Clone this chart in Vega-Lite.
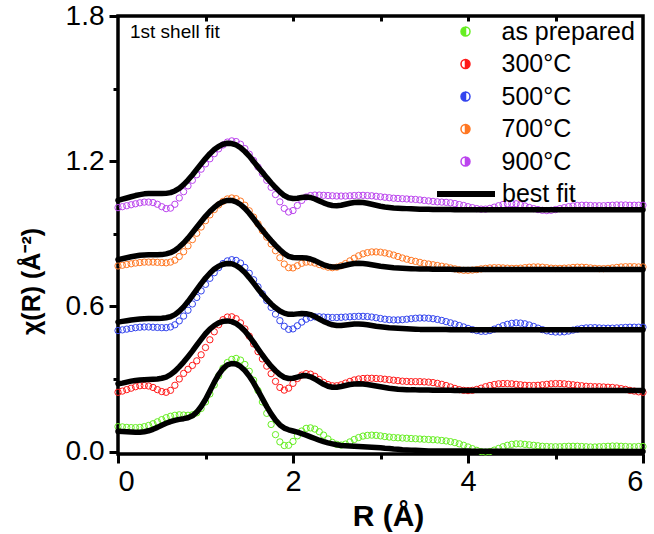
{
"$schema": "https://vega.github.io/schema/vega-lite/v6.json",
"width": 525, "height": 438,
"autosize": {"type": "none"},
"padding": {"left": 118, "top": 16, "right": 11, "bottom": 80},
"background": "white",
"title": {"text": "1st shell fit", "anchor": "start", "frame": "group", "orient": "top", "offset": -22, "baseline": "alphabetic", "dx": 12, "dy": 33, "fontSize": 19, "font": "Liberation Sans", "fontWeight": "normal", "color": "#000"},
"data": {"values": [
{"x":0,"g":0.103,"r":0.245,"b":0.500,"o":0.767,"p":1.008,"fg":0.084,"fr":0.280,"fb":0.535,"fo":0.793,"fp":1.038},
{"x":0.05,"g":0.102,"r":0.250,"b":0.503,"o":0.770,"p":1.012,"fg":0.083,"fr":0.283,"fb":0.538,"fo":0.797,"fp":1.043},
{"x":0.1,"g":0.100,"r":0.256,"b":0.506,"o":0.773,"p":1.016,"fg":0.082,"fr":0.287,"fb":0.541,"fo":0.801,"fp":1.048},
{"x":0.15,"g":0.099,"r":0.262,"b":0.509,"o":0.776,"p":1.020,"fg":0.081,"fr":0.291,"fb":0.544,"fo":0.805,"fp":1.053},
{"x":0.2,"g":0.099,"r":0.268,"b":0.512,"o":0.779,"p":1.024,"fg":0.080,"fr":0.294,"fb":0.546,"fo":0.808,"fp":1.058},
{"x":0.25,"g":0.100,"r":0.272,"b":0.514,"o":0.781,"p":1.028,"fg":0.080,"fr":0.296,"fb":0.548,"fo":0.811,"fp":1.062},
{"x":0.3,"g":0.103,"r":0.273,"b":0.515,"o":0.783,"p":1.031,"fg":0.082,"fr":0.297,"fb":0.549,"fo":0.812,"fp":1.065},
{"x":0.35,"g":0.108,"r":0.271,"b":0.515,"o":0.783,"p":1.031,"fg":0.086,"fr":0.298,"fb":0.550,"fo":0.813,"fp":1.066},
{"x":0.4,"g":0.115,"r":0.265,"b":0.514,"o":0.783,"p":1.029,"fg":0.092,"fr":0.299,"fb":0.550,"fo":0.813,"fp":1.066},
{"x":0.45,"g":0.123,"r":0.256,"b":0.513,"o":0.782,"p":1.022,"fg":0.100,"fr":0.300,"fb":0.550,"fo":0.813,"fp":1.066},
{"x":0.5,"g":0.132,"r":0.248,"b":0.512,"o":0.781,"p":1.012,"fg":0.109,"fr":0.303,"fb":0.551,"fo":0.814,"fp":1.066},
{"x":0.55,"g":0.140,"r":0.245,"b":0.512,"o":0.780,"p":1.004,"fg":0.117,"fr":0.308,"fb":0.553,"fo":0.817,"fp":1.067},
{"x":0.6,"g":0.146,"r":0.253,"b":0.515,"o":0.783,"p":1.006,"fg":0.124,"fr":0.318,"fb":0.557,"fo":0.822,"fp":1.070},
{"x":0.65,"g":0.150,"r":0.274,"b":0.524,"o":0.791,"p":1.022,"fg":0.129,"fr":0.332,"fb":0.566,"fo":0.831,"fp":1.077},
{"x":0.7,"g":0.152,"r":0.300,"b":0.540,"o":0.806,"p":1.048,"fg":0.133,"fr":0.350,"fb":0.580,"fo":0.845,"fp":1.088},
{"x":0.75,"g":0.151,"r":0.323,"b":0.560,"o":0.826,"p":1.074,"fg":0.136,"fr":0.370,"fb":0.598,"fo":0.862,"fp":1.103},
{"x":0.8,"g":0.150,"r":0.340,"b":0.584,"o":0.850,"p":1.098,"fg":0.140,"fr":0.392,"fb":0.620,"fo":0.882,"fp":1.122},
{"x":0.85,"g":0.152,"r":0.356,"b":0.610,"o":0.876,"p":1.121,"fg":0.148,"fr":0.415,"fb":0.644,"fo":0.904,"fp":1.143},
{"x":0.9,"g":0.160,"r":0.375,"b":0.637,"o":0.902,"p":1.144,"fg":0.163,"fr":0.440,"fb":0.669,"fo":0.927,"fp":1.166},
{"x":0.95,"g":0.178,"r":0.400,"b":0.664,"o":0.928,"p":1.167,"fg":0.186,"fr":0.464,"fb":0.694,"fo":0.950,"fp":1.189},
{"x":1.0,"g":0.205,"r":0.430,"b":0.691,"o":0.954,"p":1.189,"fg":0.215,"fr":0.487,"fb":0.717,"fo":0.972,"fp":1.211},
{"x":1.05,"g":0.238,"r":0.462,"b":0.716,"o":0.978,"p":1.210,"fg":0.250,"fr":0.506,"fb":0.737,"fo":0.992,"fp":1.231},
{"x":1.1,"g":0.275,"r":0.495,"b":0.739,"o":1.000,"p":1.231,"fg":0.286,"fr":0.521,"fb":0.754,"fo":1.009,"fp":1.248},
{"x":1.15,"g":0.313,"r":0.524,"b":0.760,"o":1.019,"p":1.251,"fg":0.318,"fr":0.532,"fb":0.766,"fo":1.023,"fp":1.261},
{"x":1.2,"g":0.345,"r":0.545,"b":0.777,"o":1.034,"p":1.267,"fg":0.343,"fr":0.538,"fb":0.774,"fo":1.033,"fp":1.270},
{"x":1.25,"g":0.368,"r":0.556,"b":0.788,"o":1.044,"p":1.279,"fg":0.358,"fr":0.540,"fb":0.777,"fo":1.038,"fp":1.274},
{"x":1.3,"g":0.381,"r":0.557,"b":0.793,"o":1.048,"p":1.284,"fg":0.364,"fr":0.537,"fb":0.776,"fo":1.038,"fp":1.273},
{"x":1.35,"g":0.385,"r":0.549,"b":0.790,"o":1.045,"p":1.281,"fg":0.362,"fr":0.529,"fb":0.769,"fo":1.032,"fp":1.267},
{"x":1.4,"g":0.378,"r":0.532,"b":0.779,"o":1.035,"p":1.270,"fg":0.352,"fr":0.516,"fb":0.757,"fo":1.021,"fp":1.256},
{"x":1.45,"g":0.360,"r":0.507,"b":0.761,"o":1.018,"p":1.252,"fg":0.335,"fr":0.498,"fb":0.740,"fo":1.005,"fp":1.240},
{"x":1.5,"g":0.332,"r":0.477,"b":0.737,"o":0.995,"p":1.229,"fg":0.312,"fr":0.476,"fb":0.719,"fo":0.985,"fp":1.221},
{"x":1.55,"g":0.295,"r":0.445,"b":0.710,"o":0.969,"p":1.203,"fg":0.284,"fr":0.451,"fb":0.696,"fo":0.962,"fp":1.199},
{"x":1.6,"g":0.252,"r":0.413,"b":0.681,"o":0.941,"p":1.176,"fg":0.252,"fr":0.425,"fb":0.672,"fo":0.938,"fp":1.176},
{"x":1.65,"g":0.205,"r":0.383,"b":0.652,"o":0.913,"p":1.149,"fg":0.219,"fr":0.399,"fb":0.650,"fo":0.915,"fp":1.154},
{"x":1.7,"g":0.158,"r":0.353,"b":0.624,"o":0.886,"p":1.121,"fg":0.186,"fr":0.375,"fb":0.629,"fo":0.893,"fp":1.132},
{"x":1.75,"g":0.112,"r":0.322,"b":0.596,"o":0.858,"p":1.092,"fg":0.156,"fr":0.353,"fb":0.610,"fo":0.872,"fp":1.111},
{"x":1.8,"g":0.070,"r":0.290,"b":0.568,"o":0.830,"p":1.062,"fg":0.130,"fr":0.334,"fb":0.594,"fo":0.852,"fp":1.091},
{"x":1.85,"g":0.040,"r":0.265,"b":0.541,"o":0.801,"p":1.032,"fg":0.110,"fr":0.318,"fb":0.581,"fo":0.834,"fp":1.073},
{"x":1.9,"g":0.025,"r":0.254,"b":0.518,"o":0.775,"p":1.005,"fg":0.097,"fr":0.307,"fb":0.572,"fo":0.818,"fp":1.058},
{"x":1.95,"g":0.026,"r":0.262,"b":0.505,"o":0.760,"p":0.990,"fg":0.090,"fr":0.302,"fb":0.567,"fo":0.807,"fp":1.049},
{"x":2.0,"g":0.042,"r":0.282,"b":0.507,"o":0.759,"p":0.996,"fg":0.085,"fr":0.303,"fb":0.567,"fo":0.802,"fp":1.046},
{"x":2.05,"g":0.065,"r":0.302,"b":0.520,"o":0.768,"p":1.017,"fg":0.080,"fr":0.308,"fb":0.569,"fo":0.801,"fp":1.047},
{"x":2.1,"g":0.085,"r":0.316,"b":0.535,"o":0.778,"p":1.038,"fg":0.074,"fr":0.313,"fb":0.571,"fo":0.801,"fp":1.050},
{"x":2.15,"g":0.096,"r":0.322,"b":0.547,"o":0.783,"p":1.052,"fg":0.068,"fr":0.314,"fb":0.570,"fo":0.800,"fp":1.052},
{"x":2.2,"g":0.098,"r":0.320,"b":0.554,"o":0.783,"p":1.058,"fg":0.061,"fr":0.309,"fb":0.566,"fo":0.796,"fp":1.050},
{"x":2.25,"g":0.093,"r":0.311,"b":0.557,"o":0.779,"p":1.060,"fg":0.054,"fr":0.300,"fb":0.558,"fo":0.789,"fp":1.044},
{"x":2.3,"g":0.082,"r":0.298,"b":0.557,"o":0.773,"p":1.060,"fg":0.047,"fr":0.289,"fb":0.548,"fo":0.780,"fp":1.036},
{"x":2.35,"g":0.068,"r":0.286,"b":0.556,"o":0.767,"p":1.059,"fg":0.041,"fr":0.278,"fb":0.538,"fo":0.772,"fp":1.028},
{"x":2.4,"g":0.052,"r":0.277,"b":0.555,"o":0.762,"p":1.058,"fg":0.036,"fr":0.270,"fb":0.530,"fo":0.766,"fp":1.021},
{"x":2.45,"g":0.038,"r":0.272,"b":0.554,"o":0.760,"p":1.057,"fg":0.032,"fr":0.266,"fb":0.524,"fo":0.763,"fp":1.017},
{"x":2.5,"g":0.030,"r":0.272,"b":0.554,"o":0.762,"p":1.056,"fg":0.028,"fr":0.266,"fb":0.521,"fo":0.763,"fp":1.016},
{"x":2.55,"g":0.027,"r":0.276,"b":0.555,"o":0.768,"p":1.056,"fg":0.025,"fr":0.269,"fb":0.521,"fo":0.766,"fp":1.018},
{"x":2.6,"g":0.031,"r":0.283,"b":0.556,"o":0.777,"p":1.056,"fg":0.024,"fr":0.273,"fb":0.523,"fo":0.770,"fp":1.022},
{"x":2.65,"g":0.040,"r":0.290,"b":0.557,"o":0.788,"p":1.057,"fg":0.023,"fr":0.277,"fb":0.525,"fo":0.774,"fp":1.026},
{"x":2.7,"g":0.050,"r":0.296,"b":0.558,"o":0.799,"p":1.058,"fg":0.022,"fr":0.279,"fb":0.527,"fo":0.777,"fp":1.029},
{"x":2.75,"g":0.058,"r":0.300,"b":0.559,"o":0.809,"p":1.059,"fg":0.021,"fr":0.280,"fb":0.527,"fo":0.778,"fp":1.030},
{"x":2.8,"g":0.064,"r":0.302,"b":0.559,"o":0.817,"p":1.059,"fg":0.020,"fr":0.279,"fb":0.526,"fo":0.777,"fp":1.029},
{"x":2.85,"g":0.067,"r":0.303,"b":0.558,"o":0.822,"p":1.058,"fg":0.019,"fr":0.277,"fb":0.524,"fo":0.775,"fp":1.026},
{"x":2.9,"g":0.068,"r":0.303,"b":0.556,"o":0.825,"p":1.057,"fg":0.018,"fr":0.274,"fb":0.521,"fo":0.772,"fp":1.022},
{"x":2.95,"g":0.067,"r":0.302,"b":0.553,"o":0.825,"p":1.055,"fg":0.017,"fr":0.271,"fb":0.518,"fo":0.769,"fp":1.018},
{"x":3.0,"g":0.065,"r":0.301,"b":0.550,"o":0.824,"p":1.053,"fg":0.016,"fr":0.268,"fb":0.516,"fo":0.766,"fp":1.014},
{"x":3.05,"g":0.062,"r":0.299,"b":0.547,"o":0.821,"p":1.051,"fg":0.014,"fr":0.265,"fb":0.514,"fo":0.764,"fp":1.011},
{"x":3.1,"g":0.060,"r":0.297,"b":0.545,"o":0.817,"p":1.049,"fg":0.013,"fr":0.262,"fb":0.512,"fo":0.762,"fp":1.009},
{"x":3.15,"g":0.058,"r":0.295,"b":0.544,"o":0.812,"p":1.047,"fg":0.011,"fr":0.260,"fb":0.511,"fo":0.760,"fp":1.007},
{"x":3.2,"g":0.057,"r":0.293,"b":0.544,"o":0.806,"p":1.046,"fg":0.010,"fr":0.258,"fb":0.510,"fo":0.759,"fp":1.006},
{"x":3.25,"g":0.056,"r":0.291,"b":0.545,"o":0.800,"p":1.045,"fg":0.008,"fr":0.257,"fb":0.509,"fo":0.758,"fp":1.005},
{"x":3.3,"g":0.055,"r":0.290,"b":0.547,"o":0.795,"p":1.044,"fg":0.007,"fr":0.256,"fb":0.508,"fo":0.757,"fp":1.004},
{"x":3.35,"g":0.054,"r":0.289,"b":0.549,"o":0.790,"p":1.043,"fg":0.006,"fr":0.255,"fb":0.507,"fo":0.756,"fp":1.003},
{"x":3.4,"g":0.053,"r":0.289,"b":0.551,"o":0.786,"p":1.042,"fg":0.005,"fr":0.255,"fb":0.506,"fo":0.755,"fp":1.002},
{"x":3.45,"g":0.052,"r":0.289,"b":0.552,"o":0.782,"p":1.040,"fg":0.004,"fr":0.254,"fb":0.505,"fo":0.754,"fp":1.001},
{"x":3.5,"g":0.051,"r":0.288,"b":0.552,"o":0.778,"p":1.038,"fg":0.003,"fr":0.254,"fb":0.505,"fo":0.754,"fp":1.001},
{"x":3.55,"g":0.050,"r":0.287,"b":0.551,"o":0.775,"p":1.036,"fg":0.002,"fr":0.254,"fb":0.504,"fo":0.754,"fp":1.001},
{"x":3.6,"g":0.049,"r":0.285,"b":0.549,"o":0.772,"p":1.034,"fg":0.002,"fr":0.253,"fb":0.504,"fo":0.753,"fp":1.000},
{"x":3.65,"g":0.048,"r":0.282,"b":0.546,"o":0.769,"p":1.032,"fg":0.002,"fr":0.253,"fb":0.504,"fo":0.753,"fp":1.000},
{"x":3.7,"g":0.046,"r":0.278,"b":0.542,"o":0.766,"p":1.031,"fg":0.002,"fr":0.253,"fb":0.504,"fo":0.753,"fp":1.000},
{"x":3.75,"g":0.044,"r":0.273,"b":0.537,"o":0.763,"p":1.030,"fg":0.002,"fr":0.253,"fb":0.504,"fo":0.753,"fp":1.000},
{"x":3.8,"g":0.041,"r":0.267,"b":0.532,"o":0.759,"p":1.028,"fg":0.002,"fr":0.253,"fb":0.503,"fo":0.753,"fp":1.000},
{"x":3.85,"g":0.037,"r":0.261,"b":0.527,"o":0.755,"p":1.025,"fg":0.002,"fr":0.252,"fb":0.503,"fo":0.752,"fp":0.999},
{"x":3.9,"g":0.032,"r":0.256,"b":0.521,"o":0.751,"p":1.021,"fg":0.002,"fr":0.252,"fb":0.503,"fo":0.752,"fp":0.999},
{"x":3.95,"g":0.026,"r":0.253,"b":0.515,"o":0.749,"p":1.017,"fg":0.002,"fr":0.252,"fb":0.503,"fo":0.752,"fp":0.999},
{"x":4.0,"g":0.019,"r":0.252,"b":0.509,"o":0.749,"p":1.012,"fg":0.002,"fr":0.252,"fb":0.503,"fo":0.752,"fp":0.999},
{"x":4.05,"g":0.012,"r":0.253,"b":0.504,"o":0.750,"p":1.008,"fg":0.001,"fr":0.252,"fb":0.503,"fo":0.752,"fp":0.999},
{"x":4.1,"g":0.005,"r":0.257,"b":0.500,"o":0.752,"p":1.004,"fg":0.001,"fr":0.252,"fb":0.503,"fo":0.752,"fp":0.999},
{"x":4.15,"g":0.000,"r":0.262,"b":0.497,"o":0.755,"p":1.002,"fg":0.001,"fr":0.252,"fb":0.503,"fo":0.752,"fp":0.999},
{"x":4.2,"g":-0.002,"r":0.268,"b":0.497,"o":0.757,"p":1.002,"fg":0.001,"fr":0.252,"fb":0.503,"fo":0.752,"fp":0.999},
{"x":4.25,"g":0.000,"r":0.273,"b":0.500,"o":0.759,"p":1.005,"fg":0.001,"fr":0.252,"fb":0.503,"fo":0.752,"fp":0.999},
{"x":4.3,"g":0.006,"r":0.277,"b":0.506,"o":0.760,"p":1.010,"fg":0.001,"fr":0.252,"fb":0.503,"fo":0.752,"fp":0.999},
{"x":4.35,"g":0.013,"r":0.280,"b":0.513,"o":0.760,"p":1.016,"fg":0.001,"fr":0.252,"fb":0.503,"fo":0.752,"fp":0.999},
{"x":4.4,"g":0.020,"r":0.281,"b":0.520,"o":0.759,"p":1.021,"fg":0.001,"fr":0.252,"fb":0.503,"fo":0.752,"fp":0.999},
{"x":4.45,"g":0.026,"r":0.281,"b":0.526,"o":0.758,"p":1.024,"fg":0.001,"fr":0.252,"fb":0.503,"fo":0.752,"fp":0.999},
{"x":4.5,"g":0.030,"r":0.280,"b":0.530,"o":0.757,"p":1.025,"fg":0.001,"fr":0.252,"fb":0.503,"fo":0.752,"fp":0.999},
{"x":4.55,"g":0.032,"r":0.278,"b":0.532,"o":0.757,"p":1.024,"fg":0.000,"fr":0.252,"fb":0.503,"fo":0.752,"fp":0.999},
{"x":4.6,"g":0.032,"r":0.276,"b":0.531,"o":0.758,"p":1.020,"fg":0.000,"fr":0.252,"fb":0.503,"fo":0.752,"fp":0.999},
{"x":4.65,"g":0.030,"r":0.274,"b":0.528,"o":0.760,"p":1.015,"fg":0.000,"fr":0.252,"fb":0.503,"fo":0.752,"fp":0.999},
{"x":4.7,"g":0.028,"r":0.273,"b":0.523,"o":0.762,"p":1.009,"fg":0.000,"fr":0.252,"fb":0.503,"fo":0.752,"fp":0.999},
{"x":4.75,"g":0.026,"r":0.273,"b":0.517,"o":0.763,"p":1.004,"fg":0.000,"fr":0.252,"fb":0.503,"fo":0.752,"fp":0.999},
{"x":4.8,"g":0.024,"r":0.274,"b":0.510,"o":0.763,"p":1.000,"fg":0.000,"fr":0.252,"fb":0.503,"fo":0.752,"fp":0.999},
{"x":4.85,"g":0.022,"r":0.276,"b":0.504,"o":0.762,"p":0.997,"fg":0.000,"fr":0.252,"fb":0.503,"fo":0.752,"fp":0.999},
{"x":4.9,"g":0.021,"r":0.278,"b":0.499,"o":0.760,"p":0.996,"fg":0.000,"fr":0.252,"fb":0.503,"fo":0.752,"fp":0.999},
{"x":4.95,"g":0.020,"r":0.280,"b":0.496,"o":0.758,"p":0.997,"fg":0.000,"fr":0.252,"fb":0.503,"fo":0.752,"fp":0.999},
{"x":5.0,"g":0.020,"r":0.281,"b":0.494,"o":0.757,"p":1.000,"fg":0.000,"fr":0.252,"fb":0.503,"fo":0.752,"fp":0.999},
{"x":5.05,"g":0.020,"r":0.281,"b":0.494,"o":0.757,"p":1.004,"fg":0.000,"fr":0.252,"fb":0.503,"fo":0.752,"fp":0.999},
{"x":5.1,"g":0.021,"r":0.280,"b":0.495,"o":0.758,"p":1.008,"fg":0.000,"fr":0.252,"fb":0.503,"fo":0.752,"fp":0.999},
{"x":5.15,"g":0.022,"r":0.278,"b":0.498,"o":0.759,"p":1.012,"fg":0.000,"fr":0.252,"fb":0.503,"fo":0.752,"fp":0.999},
{"x":5.2,"g":0.022,"r":0.276,"b":0.502,"o":0.761,"p":1.015,"fg":0.000,"fr":0.252,"fb":0.503,"fo":0.752,"fp":0.999},
{"x":5.25,"g":0.022,"r":0.274,"b":0.506,"o":0.762,"p":1.017,"fg":0.000,"fr":0.252,"fb":0.503,"fo":0.752,"fp":0.999},
{"x":5.3,"g":0.021,"r":0.272,"b":0.509,"o":0.762,"p":1.018,"fg":0.000,"fr":0.252,"fb":0.503,"fo":0.752,"fp":0.999},
{"x":5.35,"g":0.020,"r":0.270,"b":0.511,"o":0.761,"p":1.018,"fg":0.000,"fr":0.252,"fb":0.503,"fo":0.752,"fp":0.999},
{"x":5.4,"g":0.019,"r":0.269,"b":0.512,"o":0.759,"p":1.017,"fg":0.000,"fr":0.252,"fb":0.503,"fo":0.752,"fp":0.999},
{"x":5.45,"g":0.019,"r":0.268,"b":0.512,"o":0.757,"p":1.016,"fg":0.000,"fr":0.252,"fb":0.503,"fo":0.752,"fp":0.999},
{"x":5.5,"g":0.020,"r":0.268,"b":0.511,"o":0.756,"p":1.016,"fg":0.000,"fr":0.252,"fb":0.503,"fo":0.752,"fp":0.999},
{"x":5.55,"g":0.021,"r":0.267,"b":0.510,"o":0.756,"p":1.016,"fg":0.000,"fr":0.252,"fb":0.503,"fo":0.752,"fp":0.999},
{"x":5.6,"g":0.022,"r":0.266,"b":0.510,"o":0.757,"p":1.017,"fg":0.000,"fr":0.252,"fb":0.503,"fo":0.752,"fp":0.999},
{"x":5.65,"g":0.023,"r":0.265,"b":0.510,"o":0.759,"p":1.018,"fg":0.000,"fr":0.252,"fb":0.503,"fo":0.752,"fp":0.999},
{"x":5.7,"g":0.023,"r":0.263,"b":0.511,"o":0.761,"p":1.019,"fg":0.000,"fr":0.252,"fb":0.503,"fo":0.752,"fp":0.999},
{"x":5.75,"g":0.022,"r":0.260,"b":0.512,"o":0.763,"p":1.019,"fg":0.000,"fr":0.252,"fb":0.503,"fo":0.752,"fp":0.999},
{"x":5.8,"g":0.021,"r":0.257,"b":0.513,"o":0.764,"p":1.019,"fg":0.000,"fr":0.252,"fb":0.503,"fo":0.752,"fp":0.999},
{"x":5.85,"g":0.020,"r":0.253,"b":0.514,"o":0.764,"p":1.018,"fg":0.000,"fr":0.252,"fb":0.503,"fo":0.752,"fp":0.999},
{"x":5.9,"g":0.020,"r":0.250,"b":0.514,"o":0.764,"p":1.018,"fg":0.000,"fr":0.252,"fb":0.503,"fo":0.752,"fp":0.999},
{"x":5.95,"g":0.021,"r":0.247,"b":0.514,"o":0.763,"p":1.018,"fg":0.000,"fr":0.252,"fb":0.503,"fo":0.752,"fp":0.999},
{"x":6.0,"g":0.021,"r":0.245,"b":0.514,"o":0.763,"p":1.018,"fg":0.000,"fr":0.252,"fb":0.503,"fo":0.752,"fp":0.999}
]},
"layer": [
{
"transform": [{"fold": ["g","r","b","o","p"], "as": ["series","chi"]}],
"mark": {"type": "point", "filled": false, "size": 40, "strokeWidth": 1, "opacity": 1},
"encoding": {
"x": {"field": "x", "type": "quantitative", "scale": {"domain": [0,6], "nice": false, "zero": false},
 "axis": {"orient": "bottom", "values": [0,2,4,6], "format": "d", "tickSize": 9, "labelPadding": 4, "labelFontSize": 29, "title": "R (Å)", "titleFontSize": 30, "titleFontWeight": "bold", "titleX": 270, "titleY": 71, "titleBaseline": "alphabetic"}},
"y": {"field": "chi", "type": "quantitative", "scale": {"domain": [-0.01,1.8], "nice": false, "zero": false},
 "axis": {"orient": "left", "values": [0,0.6,1.2,1.8], "format": ".1f", "tickSize": 9, "labelPadding": 5, "labelFontSize": 28, "title": "χ(R) (Å⁻²)", "titleFontSize": 25, "titleFontWeight": "bold", "titleX": -79, "titleY": 265, "titleBaseline": "alphabetic"}},
"color": {"field": "series", "type": "nominal",
 "scale": {"domain": ["g","r","b","o","p"], "range": ["#66ee22","#ff1a1a","#3344ee","#ff7722","#bb44ee"]},
 "legend": null}
}
},
{
"transform": [{"fold": ["fg","fr","fb","fo","fp"], "as": ["fk","fit"]}],
"mark": {"type": "line", "strokeWidth": 5.5, "strokeJoin": "round", "strokeCap": "round"},
"encoding": {
"x": {"field": "x", "type": "quantitative", "axis": {"orient": "bottom", "values": [1,3,5], "labels": false, "tickSize": 5, "title": null}},
"y": {"field": "fit", "type": "quantitative", "axis": {"orient": "left", "values": [0.3,0.9,1.5], "labels": false, "tickSize": 5, "title": null}},
"detail": {"field": "fk", "type": "nominal"},
"color": {"datum": "best fit", "type": "nominal", "scale": {"range": ["#000000"]},
 "legend": {"orient": "none", "legendX": 316, "legendY": 146, "title": null, "padding": 0,
  "labelFont": "Liberation Sans", "labelFontSize": 25, "labelColor": "#000", "labelOffset": 4,
  "symbolType": "stroke", "symbolSize": 3364, "symbolStrokeWidth": 6, "symbolStrokeColor": "#000"}}
}
},
{
"transform": [{"fold": ["g","r","b","o","p"], "as": ["series","chi"]}],
"mark": {"type": "point", "filled": true, "opacity": 0, "size": 81, "strokeWidth": 1.5},
"encoding": {
"x": {"field": "x", "type": "quantitative", "axis": {"orient": "top", "values": [1,2,3,4,5], "labels": false, "tickSize": -5, "title": null}},
"y": {"field": "chi", "type": "quantitative", "axis": null},
"fill": {"field": "series", "type": "nominal",
 "scale": {"domain": ["g","r","b","o","p"], "range": ["#66ee22","#ff1a1a","#3344ee","#ff7722","#bb44ee"]},
 "legend": {"orient": "none", "legendX": 335, "legendY": 3, "title": null, "padding": 0,
  "labelFont": "Liberation Sans", "labelFontSize": 25, "labelColor": "#000", "labelOffset": 23.5, "rowPadding": 6.5,
  "symbolSize": 81, "symbolStrokeWidth": 1.5, "symbolOpacity": 1,
  "labelExpr": "{'g':'as prepared','r':'300°C','b':'500°C','o':'700°C','p':'900°C'}[datum.label]"}},
"stroke": {"field": "series", "type": "nominal",
 "scale": {"domain": ["g","r","b","o","p"], "range": ["#66ee22","#ff1a1a","#3344ee","#ff7722","#bb44ee"]},
 "legend": {"orient": "none", "legendX": 335, "legendY": 3, "title": null, "padding": 0,
  "labelFont": "Liberation Sans", "labelFontSize": 25, "labelColor": "#000", "labelOffset": 23.5, "rowPadding": 6.5,
  "symbolSize": 81, "symbolStrokeWidth": 1.5, "symbolOpacity": 1,
  "labelExpr": "{'g':'as prepared','r':'300°C','b':'500°C','o':'700°C','p':'900°C'}[datum.label]"}},
"shape": {"field": "series", "type": "nominal",
 "scale": {"domain": ["g","r","b","o","p"], "range": [
  "M0,-1A1,1,0,1,1,0,1A1,1,0,1,1,0,-1ZM0,1A1,1,0,0,0,0,-1Z",
  "M0,-1A1,1,0,1,1,0,1A1,1,0,1,1,0,-1ZM0,-1A1,1,0,0,0,0,1Z",
  "M0,-1A1,1,0,1,1,0,1A1,1,0,1,1,0,-1ZM0,1A1,1,0,0,0,0,-1Z",
  "M0,-1A1,1,0,1,1,0,1A1,1,0,1,1,0,-1ZM0,-1A1,1,0,0,0,0,1Z",
  "M0,-1A1,1,0,1,1,0,1A1,1,0,1,1,0,-1ZM0,-1A1,1,0,0,0,0,1Z"]},
 "legend": {"orient": "none", "legendX": 335, "legendY": 3, "title": null, "padding": 0,
  "labelFont": "Liberation Sans", "labelFontSize": 25, "labelColor": "#000", "labelOffset": 23.5, "rowPadding": 6.5,
  "symbolSize": 81, "symbolStrokeWidth": 1.5, "symbolOpacity": 1,
  "labelExpr": "{'g':'as prepared','r':'300°C','b':'500°C','o':'700°C','p':'900°C'}[datum.label]"}}
}
}
],
"resolve": {"scale": {"color": "independent"}, "axis": {"x": "independent", "y": "independent"}, "legend": {"color": "independent"}},
"config": {
"view": {"stroke": "#000", "strokeWidth": 3.5},
"axis": {"domain": false, "grid": false, "tickColor": "#000", "tickWidth": 3, "labelColor": "#000", "labelFont": "Liberation Sans", "titleFont": "Liberation Sans", "titleColor": "#000"},
"legend": {"labelFont": "Liberation Sans"}
}
}
